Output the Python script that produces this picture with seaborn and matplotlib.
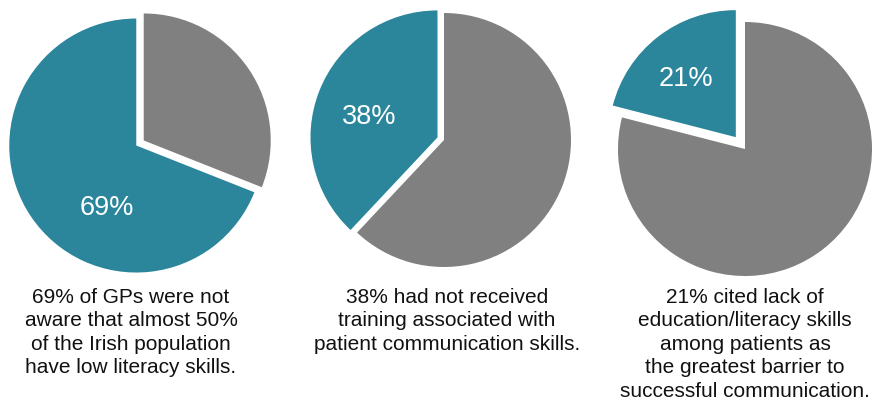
import matplotlib
matplotlib.use("Agg")
import matplotlib.pyplot as plt
import seaborn as sns

# ---- data ----
teal_pct = [69, 38, 21]
grey_pct = [31, 62, 79]
pct_labels = ["69%", "38%", "21%"]
captions = [
    "69% of GPs were not\naware that almost 50%\nof the Irish population\nhave low literacy skills.",
    "38% had not received\ntraining associated with\npatient communication skills.",
    "21% cited lack of\neducation/literacy skills\namong patients as\nthe greatest barrier to\nsuccessful communication.",
]

# ---- style / layout ----
sns.set_theme(style="white")
plt.rcParams['font.family'] = ['Liberation Sans', 'DejaVu Sans']
TEAL = "#2B869C"
GREY = "#808080"
W, H = 872, 402
centers = [(140, 144), (444, 141), (745, 150)]      # image px (y down)
explodes = [(4.5, 4.5), (7.0, 0.0), (15.0, 0.0)]    # px offsets
label_pos = [(107, 208), (369, 117), (686, 79)]
caption_x = [131, 447, 745]
caption_top = 288
R = 127

fig = plt.figure(figsize=(W / 100, H / 100), dpi=100)
ax = fig.add_axes([0, 0, 1, 1])

for i in range(3):
    cx, cy = centers[i]
    ax.pie([teal_pct[i], grey_pct[i]], colors=[TEAL, GREY], startangle=90,
           counterclock=True, center=(cx, H - cy), radius=R,
           explode=explodes[i], wedgeprops=dict(linewidth=0), frame=True)
    lx, ly = label_pos[i]
    ax.text(lx, H - ly, pct_labels[i], color="white", fontsize=19.5,
            ha="center", va="center")
    ax.text(caption_x[i], H - caption_top, captions[i], color="#111111",
            fontsize=15, ha="center", va="top", linespacing=1.3,
            multialignment="center")

ax.set_xlim(0, W)
ax.set_ylim(0, H)
ax.set_aspect("auto")
ax.axis("off")
fig.savefig("out.png", dpi=100)
